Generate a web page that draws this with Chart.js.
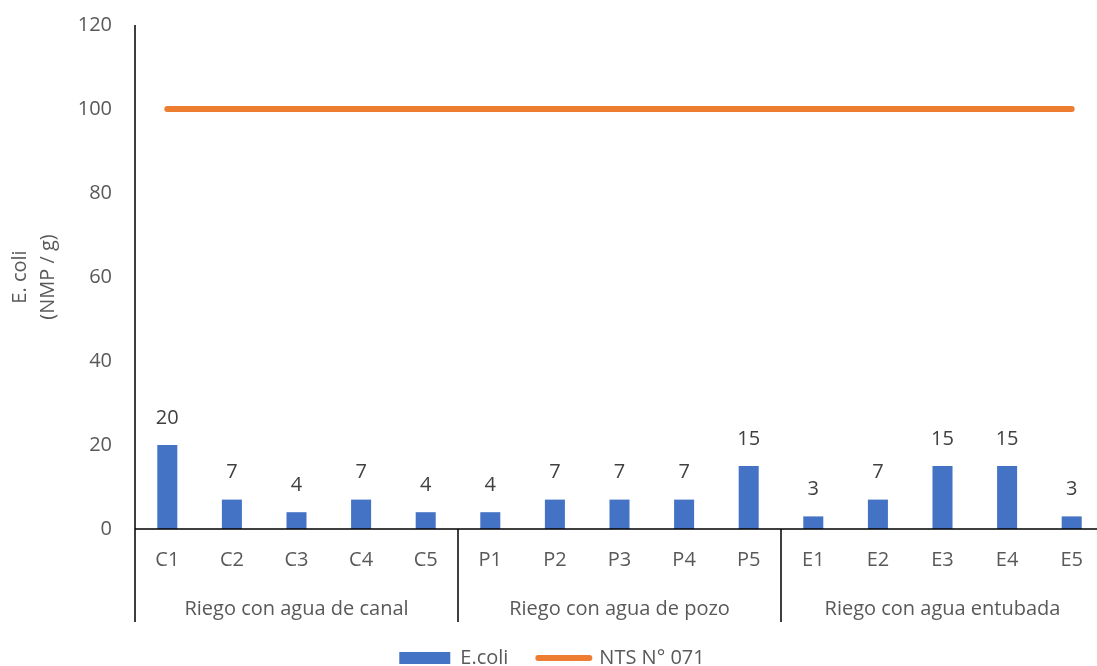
<!DOCTYPE html>
<html>
<head>
<meta charset="utf-8">
<script src="https://cdn.jsdelivr.net/npm/chart.js@4.4.1/dist/chart.umd.min.js"></script>
<style>
  html, body { margin: 0; padding: 0; background: #fff; overflow: hidden; }
  #wrap { width: 1110px; height: 678px; }
</style>
</head>
<body>
<div id="wrap"><canvas id="myChart"></canvas></div>
<script>
// sample codes and the irrigation group each block of five belongs to
const samples = ["C1", "C2", "C3", "C4", "C5", "P1", "P2", "P3", "P4", "P5", "E1", "E2", "E3", "E4", "E5"];
const groups = ["Riego con agua de canal", "Riego con agua de pozo", "Riego con agua entubada"];
const groupSize = 5;

// E. coli counts (NMP / g) and the NTS N° 071 limit
const ecoli = [20, 7, 4, 7, 4, 4, 7, 7, 7, 15, 3, 7, 15, 15, 3];
const limit = [100, 100, 100, 100, 100, 100, 100, 100, 100, 100, 100, 100, 100, 100, 100];

const yTicks = { min: 0, max: 120, step: 20 };

const FONT = "'Open Sans', sans-serif";
const SIZE = 20;
const GREY = "#595959";

// value labels over the bars
const barLabels = {
  id: "barLabels",
  afterDatasetsDraw(chart) {
    const ctx = chart.ctx;
    const meta = chart.getDatasetMeta(0);
    ctx.save();
    ctx.font = SIZE + "px " + FONT;
    ctx.fillStyle = "#404040";
    ctx.textAlign = "center";
    ctx.textBaseline = "middle";
    meta.data.forEach((bar, i) => {
      ctx.fillText(String(ecoli[i]), bar.x, bar.y - 27);
    });
    ctx.restore();
  },
};

// axis lines, group dividers and group names under the sample codes
const groupAxis = {
  id: "groupAxis",
  afterDraw(chart) {
    const ctx = chart.ctx;
    const area = chart.chartArea;
    const x = chart.scales.x;
    const bottom = area.bottom + 93;
    ctx.save();
    ctx.strokeStyle = "#000";
    ctx.lineWidth = 1.5;
    ctx.beginPath();
    ctx.moveTo(area.left, area.top);
    ctx.lineTo(area.left, bottom);
    ctx.moveTo(area.left, area.bottom);
    ctx.lineTo(area.right, area.bottom);
    for (let g = 1; g < groups.length; g++) {
      const xb = (x.getPixelForValue(g * groupSize - 1) + x.getPixelForValue(g * groupSize)) / 2;
      ctx.moveTo(xb, area.bottom);
      ctx.lineTo(xb, bottom);
    }
    ctx.stroke();

    ctx.font = SIZE + "px " + FONT;
    ctx.fillStyle = GREY;
    ctx.textAlign = "center";
    ctx.textBaseline = "middle";
    groups.forEach((name, g) => {
      const cx = (x.getPixelForValue(g * groupSize) + x.getPixelForValue(g * groupSize + groupSize - 1)) / 2;
      ctx.fillText(name, cx, area.bottom + 80);
    });
    ctx.restore();
  },
};

const ctx = document.getElementById("myChart").getContext("2d");
const chart = new Chart(ctx, {
  type: "bar",
  data: {
    labels: samples,
    datasets: [
      {
        label: "E.coli",
        data: ecoli,
        backgroundColor: "#4472C4",
        barPercentage: 0.62,
        categoryPercentage: 0.5,
        order: 2,
      },
      {
        type: "line",
        label: "NTS N° 071",
        data: limit,
        borderColor: "#ED7D31",
        backgroundColor: "#ED7D31",
        borderWidth: 6,
        borderCapStyle: "round",
        pointRadius: 0,
        order: 1,
      },
    ],
  },
  options: {
    animation: false,
    responsive: true,
    maintainAspectRatio: false,
    layout: {
      padding: { top: 25, right: 6, bottom: 0, left: 0 },
    },
    plugins: {
      tooltip: { enabled: false },
      legend: {
        display: true,
        position: "bottom",
        labels: {
          usePointStyle: true,
          pointStyleWidth: 51,
          boxHeight: 12,
          padding: 30,
          color: GREY,
          font: { size: SIZE, family: FONT },
          generateLabels(chart) {
            return chart.data.datasets.map((ds, i) => ({
              text: ds.label,
              datasetIndex: i,
              fillStyle: ds.backgroundColor,
              strokeStyle: ds.type === "line" ? ds.borderColor : ds.backgroundColor,
              lineWidth: ds.type === "line" ? 6 : 0,
              lineCap: "round",
              pointStyle: ds.type === "line" ? "line" : "rect",
              fontColor: GREY,
              hidden: false,
            }));
          },
        },
      },
    },
    scales: {
      x: {
        grid: { display: false, drawTicks: false },
        border: { display: false },
        ticks: {
          color: GREY,
          font: { size: SIZE, family: FONT },
          padding: 19,
          maxRotation: 0,
        },
        afterFit(scale) {
          scale.height = 89;
        },
      },
      y: {
        min: yTicks.min,
        max: yTicks.max,
        grid: { display: false, drawTicks: false },
        border: { display: false },
        ticks: {
          stepSize: yTicks.step,
          color: GREY,
          font: { size: SIZE, family: FONT },
          padding: 23,
        },
        title: {
          display: true,
          text: ["E. coli", "(NMP / g)"],
          color: GREY,
          font: { size: SIZE, family: FONT, lineHeight: 1.4 },
          padding: { top: 6, bottom: 0 },
        },
        afterFit(scale) {
          scale.width = 135;
          scale.paddingTop = 12;
        },
      },
    },
  },
  plugins: [barLabels, groupAxis],
});
</script>
</body>
</html>
